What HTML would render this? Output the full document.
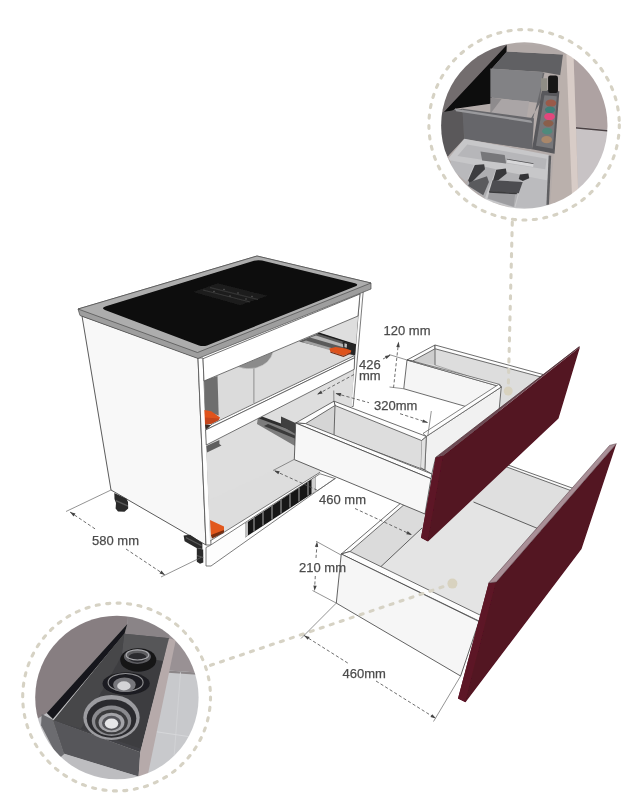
<!DOCTYPE html>
<html>
<head>
<meta charset="utf-8">
<title>Cabinet drawer diagram</title>
<style>
html,body{margin:0;padding:0;background:#ffffff;}
body{width:639px;height:800px;overflow:hidden;position:relative;font-family:"Liberation Sans",sans-serif;}
svg{position:absolute;left:0;top:0;display:block;}
text{font-family:"Liberation Sans",sans-serif;fill:#484848;stroke:#555;stroke-width:0.25;}
.ln{stroke:#555;stroke-width:0.8;fill:none;}
.dim{stroke:#555;stroke-width:0.85;fill:none;stroke-dasharray:3.2 2.2;}
.ext{stroke:#666;stroke-width:0.7;fill:none;}
.bead{stroke:#d6d2c4;stroke-width:3.1;fill:none;stroke-dasharray:3.1 7.43;stroke-linecap:round;}
</style>
</head>
<body>
<svg width="639" height="800" viewBox="0 0 639 800">
<defs>
  <clipPath id="cpTop"><circle cx="524.3" cy="125.5" r="83.2"/></clipPath>
  <clipPath id="cpBot"><circle cx="116.9" cy="697.5" r="81.7"/></clipPath>
  <filter id="soft" x="-5%" y="-5%" width="110%" height="110%"><feGaussianBlur stdDeviation="0.45"/></filter>
  <filter id="pblur" x="-5%" y="-5%" width="110%" height="110%"><feGaussianBlur stdDeviation="2.2"/></filter>
  <filter id="blur1" x="-10%" y="-10%" width="120%" height="120%"><feGaussianBlur stdDeviation="1"/></filter>
</defs>
<rect width="639" height="800" fill="#ffffff"/>

<!-- ===================== CABINET ===================== -->
<g id="cabinet" filter="url(#soft)">
  <!-- CABINET-BODY -->
  <!-- left side panel -->
  <polygon points="82,316 198,358 206,545 111,490" fill="#f8f8f8" stroke="#474747" stroke-width="0.9"/>
  <!-- front edge strip of left panel -->
  <polygon points="198,358 203,358 211,545 206,545" fill="#ffffff" stroke="#505050" stroke-width="0.8"/>
  <!-- CABINET-INTERIOR -->
  <!-- right side panel front edge -->
  <polygon points="360.1,291 363.3,290.5 353.2,406.5 350.6,406.5" fill="#fbfbfb" stroke="#5c5c5c" stroke-width="0.8"/>
  <!-- opening 1 (upper) -->
  <polygon points="204,381 358,316 354.5,357 206,426" fill="#dbdbdb"/>
  <polygon points="327,329 357.5,316.5 356,343 319,333" fill="#dedede"/>
  <line x1="253.9" y1="366" x2="253.9" y2="403" stroke="#7a7a7a" stroke-width="0.8"/>
  <polygon points="204,380.5 217.5,376 218.7,415.5 205,410.5" fill="#6e6e6e"/>
  <path d="M237.6,366.8 L273.2,351.8 Q270,364 256,368 Q246,370 237.6,366.8 Z" fill="#8b8b8b" stroke="#c8c8c8" stroke-width="0.6"/>
  <!-- slide rail upper right -->
  <polygon points="319,333 355.5,344.5 354,355.5 299,341.5" fill="#5a5a5a"/>
  <polygon points="319,332.6 356,344.2 355.8,345.4 317,333.6" fill="#1e1e1e"/>
  <polygon points="316,335.5 352,347 351,349.5 310,337.5" fill="#b5b5b5"/>
  <polygon points="306,340.5 345,352 343,354 302,342" fill="#a2a2a2"/>
  <polygon points="342.5,341.5 356,345 355,355.2 344,352" fill="#252525"/>
  <polygon points="344.5,343.2 347,343.9 346.8,347.8 344.4,347.2" fill="#bdbdbd"/>
  <polygon points="329.4,348.6 335.6,347 345.8,348.5 351.3,350.4 350.9,352.4 343.5,355.8 330.2,351.6" fill="#dd521e"/>
  <polygon points="330.2,351.6 343.5,355.8 350.9,352.4 351,353.6 343.5,357 330.5,352.8" fill="#7a2d12"/>
  <!-- orange left upper -->
  <polygon points="204.4,410 211.3,411.2 220,417.5 218.8,420 211.3,423.8 205,424.4" fill="#e0531d"/>
  <polygon points="205,417.5 218.8,418.5 218.8,420 211.3,423.8 205,424.4" fill="#c4441a"/>
  <polygon points="205,424.4 213.8,425 212.5,427 205.6,429.4" fill="#3a2a24"/>
  <!-- top rail -->
  <polygon points="203,358.7 360,294 358,316 204,381" fill="#ffffff" stroke="#505050" stroke-width="0.8"/>
  <!-- opening 2 (lower) -->
  <polygon points="206,445 353.75,369.4 349,462 320,472.5 210,541" fill="#dedede"/>
  <polygon points="206.25,446 219.4,440 219.4,444 221.5,445.5 207,452.5" fill="#5f5f5f"/>
  <polygon points="294.3,459.6 320,472 270,502.6 210,541 209,500 273,470.5" fill="#dddddd"/>
  <!-- slide rail for upper drawer -->
  <polygon points="258,417 296,431 295,446 257,424" fill="#7b7b7b"/>
  <polygon points="262,416.5 296,429 296,432 259,418.5" fill="#2e2e2e"/>
  <polygon points="268,424 295,435.5 295,438.5 264,426" fill="#3a3a3a"/>
  <polygon points="281,416.5 295.5,423 295.5,434 281,425.5" fill="#3f3f3f"/>
  <!-- middle rail -->
  <polygon points="205.6,430 212,424 354.4,355.6 354.6,357.8" fill="#fdfdfd" stroke="#505050" stroke-width="0.8"/>
  <polygon points="205.6,430 354.6,357.8 354.2,369.3 206.25,445" fill="#ffffff" stroke="#505050" stroke-width="0.8"/>
  <!-- orange lower left -->
  <polygon points="210,520 224,526.5 224,531 211,536.5" fill="#e2581f"/>
  <polygon points="211,535 224,530 224,533 212,538.5" fill="#7a2d10"/>
  <!-- plinth -->
  <polygon points="206,547.5 210,545.5 320,473.75 335,478.5 317,491 211,566 206,566" fill="#fdfdfd" stroke="#5c5c5c" stroke-width="0.8"/>
  <line x1="210" y1="541" x2="320" y2="472.3" stroke="#5c5c5c" stroke-width="0.8"/>
  <!-- vent grille -->
  <polygon points="245,523.75 315.4,476.8 315.4,491.6 245,537.5" fill="#161616"/>
  <g stroke="#8a8a8a" stroke-width="1.3">
    <line x1="254" y1="518" x2="254" y2="531.5"/><line x1="263" y1="512" x2="263" y2="525.5"/>
    <line x1="272" y1="506" x2="272" y2="519.5"/><line x1="281" y1="500" x2="281" y2="513.5"/>
    <line x1="290" y1="494" x2="290" y2="507.5"/><line x1="299" y1="488" x2="299" y2="501.5"/>
    <line x1="308" y1="482" x2="308" y2="495.5"/>
  </g>
  <polygon points="311.5,479.5 315.4,476.8 315.4,491.6 311.5,494" fill="#cfcfcf"/>
  <polygon points="245,523.75 248,521.7 248,535.5 245,537.5" fill="#bdbdbd"/>
  <!-- feet -->
  <g fill="#2b2b2b">
    <polygon points="114.3,493 126.5,498.8 128,502 128.2,508.5 124.5,511.8 118,511.5 115.6,508.5 116,503 114.5,499"/>
    <polygon points="116,500 128,505.3 128,506.8 116,501.5" fill="#5a5a5a"/>
    <polygon points="183.6,535.4 190,534.8 202.4,543 202.4,549 197,548.3 184.6,541.2"/>
    <polygon points="186,537 201.5,545 201.5,546.2 186,538.2" fill="#5a5a5a"/>
    <polygon points="196.8,548 203.2,549.6 203.3,562.5 200,563.8 196.8,561.8"/>
    <polygon points="197,555 203.2,557 203.2,558.2 197,556.2" fill="#555"/>
  </g>
  <!-- COOKTOP -->
  <polygon points="78,309 257,256 371,283 371,289 198,358.5 80,315.5" fill="#9e9e9e" stroke="#4a4a4a" stroke-width="0.7"/>
  <polygon points="78,309 257,256 371,283 197.5,352.5" fill="#adadad" stroke="#4a4a4a" stroke-width="0.7"/>
  <path d="M106,306.2 L254,260.8 Q258,259.6 262,260.6 L355,283.2 Q359.5,284.6 355,286.6 L207,345.4 Q203,346.8 199,345.4 L105,310 Q100.5,308 106,306.2 Z" fill="#0b0b0b"/>
<!-- COOKTOP-VENT -->
  <polygon points="193.3,291.9 217.6,283.3 267.6,295.8 240.3,305.2" fill="#1d1d1d"/>
  <g stroke="#3a3a3a" stroke-width="0.9">
    <line x1="203" y1="290" x2="250" y2="302"/><line x1="210" y1="287.5" x2="258" y2="299.5"/>
  </g>
  <g fill="#555"><circle cx="214" cy="291.5" r="0.8"/><circle cx="224" cy="289.5" r="0.8"/><circle cx="230" cy="296" r="0.8"/><circle cx="238" cy="293" r="0.8"/><circle cx="246" cy="299" r="0.8"/><circle cx="252" cy="296.5" r="0.8"/></g>
</g>

<!-- ===================== DRAWERS ===================== -->
<g id="drawers" filter="url(#soft)">
  <!-- LOWER-DRAWER -->
  <g stroke-linejoin="round">
  <polygon points="350,551.5 465.3,451.7 572,491 497,583.5 480,615" fill="#e4e4e4"/>
  <polygon points="350,551.5 465.3,451.7 467,485 381,566.5" fill="#dbdbdb"/>
  <polygon points="465.3,451.7 572,491 542,530.3 467,499.5" fill="#dfdfdf"/>
  <line x1="381" y1="566.5" x2="422" y2="528" stroke="#474747" stroke-width="0.85"/>
  <line x1="473.5" y1="502" x2="542" y2="530.3" stroke="#474747" stroke-width="0.85"/>
  <!-- far side top strip -->
  <polygon points="463.5,449 573.5,488.5 572,491 465.3,451.7" fill="#fafafa" stroke="#474747" stroke-width="0.8"/>
  <!-- back top strip -->
  <polygon points="341.25,554 463.5,449.5 465.3,451.7 350,551.5" fill="#fcfcfc" stroke="#474747" stroke-width="0.8"/>
  <!-- near side top strip -->
  <polygon points="341.25,554 350,551.5 482,616 480,621.5" fill="#fdfdfd" stroke="#474747" stroke-width="0.8"/>
  <!-- near side face -->
  <polygon points="341.25,554 336.3,603.1 460.6,676 479,621.5" fill="#f6f6f6" stroke="#474747" stroke-width="0.85"/>
  </g>
  <!-- UPPER-DRAWER -->
  <g stroke-linejoin="round">
  <!-- far box interior -->
  <polygon points="412.5,361 435,348.75 541,377 499,411 501.25,387" fill="#dddddd"/>
  <polygon points="412.5,361 435,348.75 435,365" fill="#cecece"/>
  <line x1="435" y1="348.75" x2="435" y2="365" stroke="#505050" stroke-width="0.8"/>
  <line x1="435" y1="365" x2="497.5" y2="386" stroke="#888" stroke-width="0.6"/>
  <!-- box top strips -->
  <polygon points="407,360 435,345 435,348.75 412.5,361" fill="#fdfdfd" stroke="#474747" stroke-width="0.8"/>
  <polygon points="435,345 543,374.5 541,377 435,348.75" fill="#fdfdfd" stroke="#474747" stroke-width="0.8"/>
  <!-- box near wall outer face -->
  <polygon points="407,360 501.25,387 470,407.7 403.75,388.75" fill="#f5f5f5" stroke="#474747" stroke-width="0.8"/>
  <polygon points="407,360 412.5,361 500,384.5 501.25,387" fill="#fdfdfd" stroke="#4f4f4f" stroke-width="0.7"/>
  <!-- front compartment back wall (faces front) -->
  <polygon points="426.3,436.4 501.25,387 499,411 443.5,455.2 435.7,457.6 431.8,474 424.8,470" fill="#f1f1f1" stroke="#474747" stroke-width="0.8"/>
  <polygon points="421.5,440.5 426.3,436.4 424.8,470 420.5,467.5" fill="#e2e2e2" stroke="#585858" stroke-width="0.7"/>
  <polygon points="423,433.5 498.5,384.5 501.25,387 426.3,436.4" fill="#fdfdfd" stroke="#4f4f4f" stroke-width="0.7"/>
  <!-- tray interior -->
  <polygon points="305.6,423.6 335,405.5 334,435.6" fill="#d5d5d5"/>
  <polygon points="335,405.5 421.5,440.5 420.5,467.5 334,435.6" fill="#dddddd"/>
  <line x1="335" y1="405.5" x2="334" y2="435.6" stroke="#474747" stroke-width="0.8"/>
  <line x1="334" y1="435.6" x2="424.8" y2="470" stroke="#474747" stroke-width="0.8"/>
  <line x1="334" y1="437.6" x2="424" y2="472" stroke="#777" stroke-width="0.5"/>
  <!-- far wall top strip -->
  <polygon points="334,401.2 426.3,436.4 421.5,440.5 335,405.5" fill="#fdfdfd" stroke="#474747" stroke-width="0.8"/>
  <!-- back top strip -->
  <polygon points="295.7,423 334,401.2 335,405.5 305.6,423.6" fill="#fdfdfd" stroke="#474747" stroke-width="0.8"/>
  <!-- near side top strip -->
  <polygon points="295.7,423 305.6,423.6 431.8,474 431,478.7" fill="#fdfdfd" stroke="#474747" stroke-width="0.8"/>
  <!-- near side face -->
  <polygon points="295.7,423 294.3,459.6 425,514 431,478.7" fill="#f7f7f7" stroke="#474747" stroke-width="0.85"/>
  </g>
  <!-- RED-FRONTS -->
  <polygon points="435.7,457.6 443.5,455.2 580,347 558.5,418.5 428,541.5 421,537.7" fill="#521220"/>
  <polygon points="435.7,457.6 443,455.4 427.6,541.3 421,537.7" fill="#5d1425"/>
  <polygon points="435.7,457.6 579,346.6 580,347 443.5,455.2" fill="#6e4c55"/>
  <line x1="435.7" y1="457.4" x2="579.5" y2="346.6" stroke="#3a1a20" stroke-width="0.6"/>
  <polygon points="488.7,583 496.2,582 616.4,443.7 581.5,549 465.5,702.2 458,698.5" fill="#521220"/>
  <polygon points="488.7,583 495.8,582.2 465.2,702 458,698.5" fill="#5d1425"/>
  <polygon points="488.7,583 609.6,445.4 616.4,443.7 496.2,582" fill="#a98f97" stroke="#4a3038" stroke-width="0.5"/>
</g>

<!-- ===================== CALLOUTS ===================== -->
<g id="callouts">
  <circle cx="524.1" cy="124.8" r="95.2" class="bead"/>
  <circle cx="116.6" cy="697" r="93.9" class="bead"/>
  <line x1="512.3" y1="222" x2="508.2" y2="391" class="bead"/>
  <circle cx="508.2" cy="391" r="4.5" fill="#d8d2bf"/>
  <line x1="210.5" y1="665.3" x2="452.4" y2="583.6" class="bead"/>
  <circle cx="452.4" cy="583.6" r="5" fill="#d8d2bf"/>
  <!-- PHOTO-TOP -->
  <g clip-path="url(#cpTop)">
   <g transform="translate(434 36) scale(0.2817)" filter="url(#pblur)">
    <rect x="0" y="0" width="640" height="640" fill="#b3aba9"/>
    <!-- far right cabinet + floor -->
    <polygon points="495,60 640,150 640,335 500,322" fill="#aea2a2"/>
    <polygon points="500,322 640,335 640,560 510,560" fill="#c8c3c5"/>
    <polygon points="500,323 640,336 640,341 500,328" fill="#4a4042"/>
    <!-- top-left taupe band + black -->
    <polygon points="0,0 262,0 262,30 25,290 0,330" fill="#736d6e"/>
    <polygon points="22,284 260,30 258,58 205,116 205,240 75,258 25,305" fill="#0b090b"/>
    <!-- back compartment -->
    <polygon points="258,55 458,66 455,140 385,128 205,116" fill="#616164"/>
    <polygon points="258,28 470,40 458,66 258,55" fill="#b1a9a7"/>
    <!-- first divider front face -->
    <polygon points="200,115 385,128 376,238 200,218" fill="#828285"/>
    <polygon points="385,128 392,132 350,300 340,300 376,238" fill="#6a6a6d"/>
    <!-- second compartment floor -->
    <polygon points="240,224 338,232 328,294 200,276" fill="#aaa5a6"/>
    <polygon points="200,218 240,224 200,276" fill="#8e8b8d"/>
    <!-- long divider -->
    <polygon points="25,300 75,258 345,300 350,402 105,366 50,425 25,340" fill="#6f6f72"/>
    <polygon points="75,258 345,300 350,310 78,268" fill="#9c9c9f"/>
    <polygon points="25,300 75,258 80,372 50,425 25,340" fill="#615e60"/>
    <!-- side panel of drawer -->
    <polygon points="458,66 495,60 512,560 412,610 440,200" fill="#bab0ac"/>
    <polygon points="470,66 495,60 512,560 490,570" fill="#d8ccc7"/>
    <!-- spice rack -->
    <polygon points="383,190 445,196 428,418 348,402" fill="#58585b"/>
    <polygon points="392,210 436,214 422,400 362,390" fill="#77777a"/>
    <rect x="405" y="140" width="35" height="62" rx="8" fill="#151416"/>
    <rect x="380" y="150" width="22" height="45" fill="#8f8d86"/>
    <ellipse cx="415" cy="238" rx="19" ry="13" fill="#9a5a48"/>
    <ellipse cx="412" cy="262" rx="18" ry="12" fill="#3f7f78"/>
    <ellipse cx="410" cy="286" rx="19" ry="13" fill="#e2467c"/>
    <ellipse cx="406" cy="310" rx="18" ry="12" fill="#8a5f4c"/>
    <ellipse cx="402" cy="338" rx="18" ry="12" fill="#4f8a7c"/>
    <ellipse cx="400" cy="368" rx="19" ry="13" fill="#a9876a"/>
    <!-- cutlery tray -->
    <polygon points="101,258 355,292 348,402 108,365" fill="#66666a"/>
    <polygon points="21,272 101,258 107,365 48,428 21,372" fill="#5a585a"/>
    <polygon points="75,258 345,300 350,309 78,267" fill="#9a9a9d"/>
    <polygon points="108,365 408,422 416,440 403,613 288,614 188,585 51,435" fill="#c7c7c9"/>
    <polygon points="118,385 400,436 395,473 83,426" fill="#b6b6b9"/>
    <polygon points="165,410 251,422 256,453 171,442" fill="#77777a"/>
    <polygon points="258,437 353,453 352,465 259,450" fill="#d6d6d8"/>
    <polygon points="258,436 353,452 353,454 258,438" fill="#4a4a4d"/>
    <polygon points="61,442 141,457 115,518 56,468" fill="#b9b9bc"/>
    <polygon points="149,457 220,473 181,575 115,528" fill="#aeaeb1"/>
    <polygon points="225,476 315,493 285,608 189,578" fill="#b0b0b3"/>
    <polygon points="319,496 404,513 398,612 289,609" fill="#bbbbbe"/>
    <polygon points="145,458 178,455 181,473 155,498 128,525 121,512" fill="#3c3c3f"/>
    <polygon points="128,518 188,498 195,518 175,565 121,532" fill="#5a5a5d"/>
    <polygon points="221,475 255,470 258,488 228,512 208,518" fill="#37373a"/>
    <polygon points="208,512 315,518 301,558 196,552" fill="#4e4e51"/>
    <polygon points="305,492 335,488 338,505 315,515 301,508" fill="#333336"/>
    <polygon points="196,555 288,562 283,606 191,577" fill="#9d9da0"/>
    <polygon points="196,550 295,557 293,562 196,556" fill="#3a3a3d"/>
    <polygon points="407,424 416,425 408,598 399,600" fill="#5f5f62"/>
   </g>
  </g>
  <!-- PHOTO-BOTTOM -->
  <g clip-path="url(#cpBot)">
   <g transform="translate(27 607) scale(0.2817)" filter="url(#pblur)">
    <rect x="0" y="0" width="640" height="640" fill="#bfbfc2"/>
    <!-- right cabinet + tiled floor -->
    <polygon points="505,100 640,100 640,235 500,225" fill="#999194"/>
    <polygon points="500,225 640,235 640,640 380,640 415,600" fill="#c8c9cc"/>
    <polygon points="500,225 640,235 640,243 500,233" fill="#8c8789"/>
    <line x1="545" y1="232" x2="520" y2="560" stroke="#d3d4d7" stroke-width="3"/>
    <line x1="440" y1="440" x2="640" y2="470" stroke="#d8d9dc" stroke-width="3"/>
    <!-- countertop taupe -->
    <polygon points="0,0 362,0 356,60 70,376 0,420" fill="#877e81"/>
    <polygon points="356,30 510,30 506,112 345,96 356,60" fill="#8a8487"/>
    <polygon points="356,60 70,376 92,398 346,96" fill="#19191b"/>
    <!-- drawer interior -->
    <polygon points="345,95 506,111 402,516 94,404" fill="#434346"/>
    <polygon points="345,95 506,111 482,192 336,172" fill="#565659"/>
    <polygon points="345,95 336,172 192,432 94,404" fill="#464649"/>
    <polygon points="336,174 482,192 404,502 192,432" fill="#3d3d40"/>
    <!-- drawer front + left side -->
    <polygon points="90,400 402,516 396,602 130,520" fill="#57575a"/>
    <polygon points="52,380 92,400 132,522 112,540 50,420" fill="#6c6c6f"/>
    <!-- drawer right side panel -->
    <polygon points="504,111 528,118 428,600 396,604 402,516" fill="#b6aaaa"/>
    <!-- below drawer -->
    <polygon points="132,522 396,602 390,640 140,566" fill="#bdbdc0"/>
    <!-- bowls -->
    <ellipse cx="395" cy="188" rx="64" ry="42" fill="#151517"/>
    <ellipse cx="392" cy="176" rx="48" ry="26" fill="#5d5d61"/>
    <ellipse cx="392" cy="180" rx="32" ry="17" fill="#2a2a2d"/>
    <ellipse cx="392" cy="170" rx="40" ry="18" fill="none" stroke="#a9a9ad" stroke-width="4"/>
    <ellipse cx="352" cy="272" rx="84" ry="40" fill="#1d1d20"/>
    <ellipse cx="350" cy="268" rx="62" ry="32" fill="none" stroke="#8f8f93" stroke-width="4"/>
    <ellipse cx="346" cy="276" rx="40" ry="26" fill="#77777b"/>
    <ellipse cx="344" cy="280" rx="24" ry="16" fill="#d3d3d6"/>
    <ellipse cx="300" cy="392" rx="100" ry="80" fill="#9c9ca0"/>
    <ellipse cx="300" cy="396" rx="88" ry="68" fill="#2c2c2f"/>
    <ellipse cx="300" cy="404" rx="70" ry="54" fill="#8a8a8e"/>
    <ellipse cx="300" cy="408" rx="58" ry="44" fill="#3a3a3d"/>
    <ellipse cx="300" cy="410" rx="46" ry="35" fill="#a4a4a8"/>
    <ellipse cx="300" cy="412" rx="34" ry="26" fill="#55555a"/>
    <ellipse cx="300" cy="414" rx="24" ry="18" fill="#e6e6e8"/>
   </g>
  </g>
</g>

<!-- ===================== DIMENSIONS ===================== -->
<g id="dims" filter="url(#soft)">
  <line x1="70" y1="512" x2="96" y2="529.5" class="dim"/>
  <line x1="126" y1="549" x2="165" y2="575" class="dim"/>
  <polygon points="70.0,512.0 75.5,513.6 73.6,516.5" fill="#444"/>
  <polygon points="165.0,575.0 159.5,573.4 161.4,570.5" fill="#444"/>
  <line x1="111" y1="490" x2="66" y2="511.5" class="ext"/>
  <line x1="201" y1="557.5" x2="161" y2="577" class="ext"/>
  <text x="92" y="545" font-size="13">580 mm</text>
  <line x1="275" y1="471" x2="319" y2="491" class="dim"/>
  <line x1="355" y1="508.5" x2="411" y2="534.5" class="dim"/>
  <polygon points="274.0,470.5 279.7,471.2 278.3,474.3" fill="#444"/>
  <polygon points="412.0,535.0 406.3,534.2 407.7,531.1" fill="#444"/>
  <line x1="317" y1="491" x2="336" y2="478" class="ext"/>
  <line x1="273" y1="470.5" x2="294" y2="459.5" class="ext"/>
  <text x="319" y="504.2" font-size="13">460 mm</text>
  <line x1="317" y1="544" x2="316" y2="558" class="dim"/>
  <line x1="315.3" y1="576" x2="314.6" y2="588" class="dim"/>
  <polygon points="317.1,541.5 318.2,547.1 314.9,546.8" fill="#444"/>
  <polygon points="314.5,591.0 313.4,585.4 316.7,585.7" fill="#444"/>
  <line x1="316" y1="541.2" x2="341" y2="555" class="ext"/>
  <line x1="312.5" y1="590.5" x2="336.3" y2="603.1" class="ext"/>
  <text x="299" y="572" font-size="13">210 mm</text>
  <line x1="304" y1="635.4" x2="348" y2="663.2" class="dim"/>
  <line x1="376" y1="681" x2="435.5" y2="718.3" class="dim"/>
  <polygon points="304.0,635.4 309.6,636.9 307.7,639.8" fill="#444"/>
  <polygon points="436.0,718.6 430.4,717.1 432.3,714.2" fill="#444"/>
  <line x1="336.3" y1="603.1" x2="301" y2="638.5" class="ext"/>
  <line x1="460.6" y1="676" x2="433.5" y2="721.5" class="ext"/>
  <text x="342.5" y="677.5" font-size="13">460mm</text>
  <line x1="398" y1="347" x2="393.5" y2="388" class="dim"/>
  <polygon points="398.6,341.5 399.8,347.3 396.3,346.9" fill="#444"/>
  <line x1="389" y1="354.5" x2="407" y2="360" class="ext"/>
  <line x1="389.5" y1="387" x2="403.75" y2="388.75" class="ext"/>
  <text x="383.5" y="335" font-size="13">120 mm</text>
  <line x1="318" y1="394" x2="354" y2="374.5" class="dim"/>
  <line x1="383" y1="359" x2="390" y2="355.3" class="dim"/>
  <polygon points="317.0,394.5 321.0,390.4 322.6,393.4" fill="#444"/>
  <polygon points="390.5,355.0 386.5,359.1 384.9,356.1" fill="#444"/>
  <text x="359" y="368.5" font-size="13">426</text>
  <text x="359" y="380.3" font-size="13">mm</text>
  <line x1="336" y1="393.5" x2="369" y2="402.7" class="dim"/>
  <line x1="400" y1="413.7" x2="427.5" y2="422.5" class="dim"/>
  <polygon points="335.5,393.3 341.3,393.1 340.3,396.4" fill="#444"/>
  <polygon points="428.0,422.7 422.2,422.6 423.3,419.4" fill="#444"/>
  <line x1="333.75" y1="390.5" x2="333.9" y2="402" class="ext"/>
  <line x1="431.3" y1="411" x2="427.8" y2="436" class="ext"/>
  <text x="374" y="410" font-size="13">320mm</text>
</g>
</svg>
</body>
</html>
